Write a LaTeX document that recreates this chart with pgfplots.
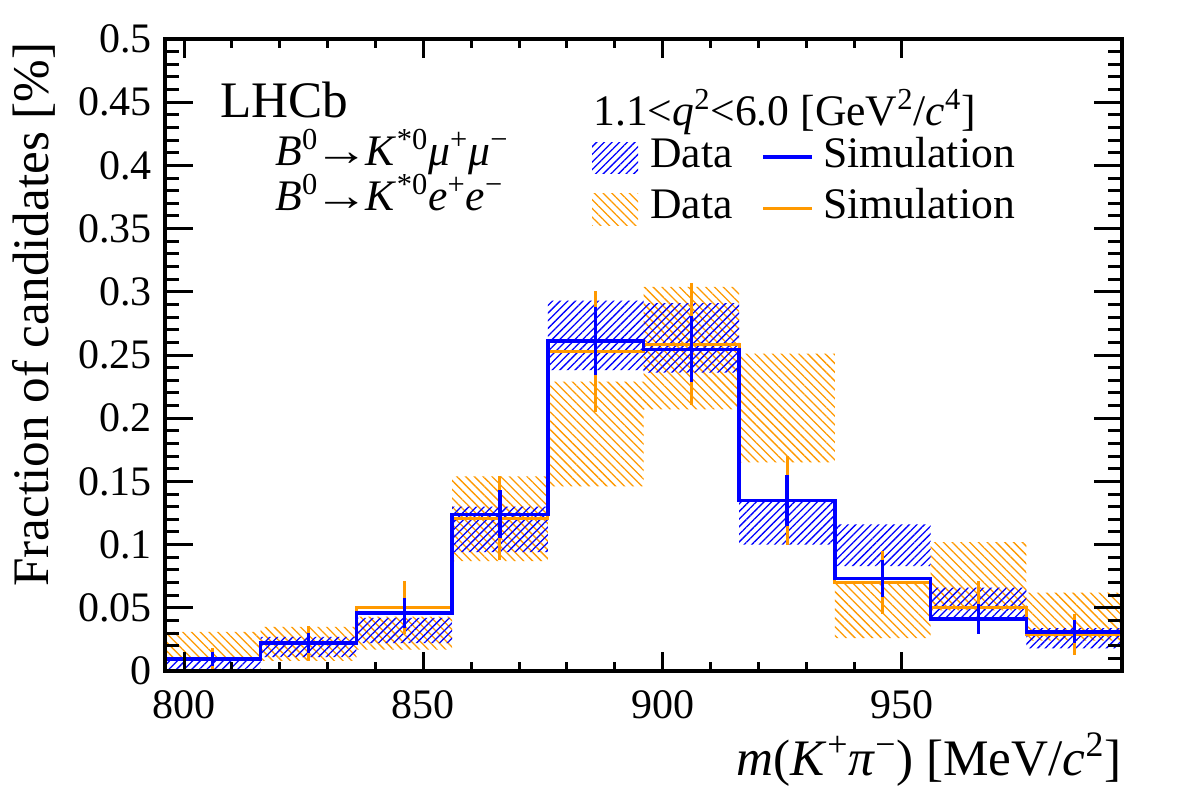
\documentclass[border=0pt]{standalone}
\usepackage{fontspec}
\setmainfont{Liberation Serif}
\usepackage{pgfplots}
\usepackage{pgfplotstable}
\pgfplotsset{compat=1.18}
\usetikzlibrary{patterns.meta}

\definecolor{rootblue}{RGB}{0,0,255}
\definecolor{rootorange}{RGB}{255,153,0}

% B0 -> K*0 mu+ mu- : bin left edge, bin centre, simulation, its error, data band
\pgfplotstableread{
x    xc   sim     err     lo     hi
796  806  0.0095  0.0055  0.001  0.010
816  826  0.022   0.008   0.011  0.027
836  846  0.046   0.012   0.022  0.042
856  866  0.124   0.019   0.094  0.130
876  886  0.261   0.027   0.238  0.293
896  906  0.2545  0.026   0.236  0.291
916  926  0.135   0.020   0.100  0.135
936  946  0.073   0.0145  0.083  0.116
956  966  0.041   0.0117  0.040  0.066
976  986  0.031   0.009   0.018  0.034
996  996  0.031   0       0.018  0.034
}\mumu

% B0 -> K*0 e+ e-
\pgfplotstableread{
x    xc   sim     err     lo     hi
796  806  0.009   0.009   0.008  0.031
816  826  0.022   0.014   0.008  0.035
836  846  0.050   0.021   0.017  0.043
856  866  0.121   0.033   0.087  0.154
876  886  0.253   0.048   0.146  0.229
896  906  0.2587  0.048   0.207  0.304
916  926  0.135   0.035   0.165  0.251
936  946  0.070   0.025   0.026  0.070
956  966  0.050   0.021   0.048  0.102
976  986  0.029   0.016   0.024  0.062
996  996  0.029   0       0.024  0.062
}\ee

\newcommand\ticksize{\fontsize{21pt}{21pt}\selectfont}
\newcommand\titlesize{\fontsize{25.6pt}{25.6pt}\selectfont}
\newcommand\legsize{\fontsize{21.8pt}{21.8pt}\selectfont}
\newcommand\arr{\kern-0.08em\scalebox{1.25}[1]{→}\kern-0.08em}

\tikzset{
  bluehatch/.style={pattern={Lines[angle=45,distance=2.7pt,line width=0.65pt]},pattern color=rootblue},
  orangehatch/.style={pattern={Lines[angle=-45,distance=3.1pt,line width=0.65pt]},pattern color=rootorange},
}

\pgfplotsset{
  rootframe/.style={
    width=478.5pt, height=316pt, scale only axis,
    xmin=796, xmax=996, ymin=0, ymax=0.5,
    axis line style={line width=2pt},
    tick style={black, line width=1.5pt},
    tick align=inside,
    /pgf/number format/assume math mode=true,
    tick label style={font=\ticksize},
  },
  bandframe/.style={
    rootframe, xtick=\empty, ytick=\empty,
    ybar stacked, bar width=20, bar shift=0pt,
  },
}

\begin{document}
\begin{tikzpicture}
\useasboundingbox (-82.5pt,-64.5pt) rectangle (508.5pt,335.5pt);

% e+e- data band (lo ... hi)
\begin{axis}[bandframe]
  \addplot[draw=none, fill=none, forget plot, skip coords between index={10}{11}]
    table[x=xc, y=lo] {\ee};
  \addplot[draw=none, orangehatch, forget plot, skip coords between index={10}{11}]
    table[x=xc, y expr=\thisrow{hi}-\thisrow{lo}] {\ee};
\end{axis}

% mu+mu- data band
\begin{axis}[bandframe]
  \addplot[draw=none, fill=none, forget plot, skip coords between index={10}{11}]
    table[x=xc, y=lo] {\mumu};
  \addplot[draw=none, bluehatch, forget plot, skip coords between index={10}{11}]
    table[x=xc, y expr=\thisrow{hi}-\thisrow{lo}] {\mumu};
\end{axis}

% simulation and the y axis
\begin{axis}[rootframe,
  xtick=\empty,
  ytick={0,0.05,0.1,0.15,0.2,0.25,0.3,0.35,0.4,0.45,0.5},
  yticklabels={0,0.05,0.1,0.15,0.2,0.25,0.3,0.35,0.4,0.45,0.5},
  minor y tick num=4,
  major tick length=14pt, minor tick length=7pt,
  yticklabel style={inner sep=0pt, xshift=-6.5pt},
]
  \addplot[rootorange, line width=1.5pt, const plot, mark=none, forget plot] table[x=x, y=sim] {\ee};
  \addplot[draw=none, mark=none, forget plot, skip coords between index={10}{11},
    error bars/.cd, y dir=both, y explicit, error mark=none,
    error bar style={draw=rootorange, line width=1.5pt}]
    table[x=xc, y=sim, y error=err] {\ee};
  \addplot[rootblue, line width=1.75pt, const plot, mark=none, forget plot] table[x=x, y=sim] {\mumu};
  \addplot[draw=none, mark=none, forget plot, skip coords between index={10}{11},
    error bars/.cd, y dir=both, y explicit, error mark=none,
    error bar style={draw=rootblue, line width=1.6pt}]
    table[x=xc, y=sim, y error=err] {\mumu};
\end{axis}

% x axis ticks
\begin{axis}[rootframe,
  ytick=\empty,
  xtick={800,850,900,950},
  minor x tick num=4,
  major tick length=9.5pt, minor tick length=4.5pt,
  xticklabel style={inner sep=0pt, yshift=-9.5pt},
]
  \addplot[draw=none, forget plot] coordinates {(796,0) (996,0.5)};
\end{axis}

% axis titles
\node[rotate=90, anchor=base east, inner sep=0pt, font=\titlesize] at (-58pt,314.5pt) {Fraction of candidates [\%]};
\node[anchor=base east, inner sep=0pt, font=\titlesize] at (478.5pt,-52pt)
  {\textit{m}(\textit{K}\textsuperscript{+}\textit{π}\textsuperscript{−}) [MeV/\textit{c}\textsuperscript{2}]};

% labels
\node[anchor=base west, inner sep=0pt, font=\titlesize] at (27.5pt,277pt) {LHCb};
\node[anchor=base west, inner sep=0pt, font=\legsize] at (55pt,253pt)
  {\textit{B}\textsuperscript{0}\arr\textit{K}\textsuperscript{*0}\textit{μ}\textsuperscript{+}\textit{μ}\textsuperscript{−}};
\node[anchor=base west, inner sep=0pt, font=\legsize] at (55pt,230.5pt)
  {\textit{B}\textsuperscript{0}\arr\textit{K}\textsuperscript{*0}\textit{e}\textsuperscript{+}\textit{e}\textsuperscript{−}};
\node[anchor=base west, inner sep=0pt, font=\legsize] at (214pt,273pt)
  {1.1<\textit{q}\textsuperscript{2}<6.0 [GeV\textsuperscript{2}/\textit{c}\textsuperscript{4}]};

% legend
\fill[bluehatch] (213.5pt,249pt) rectangle (236.5pt,264.5pt);
\node[anchor=base west, inner sep=0pt, font=\legsize] at (242.5pt,252pt) {Data};
\draw[rootblue, line width=1.75pt] (299pt,257pt) -- (323.5pt,257pt);
\node[anchor=base west, inner sep=0pt, font=\legsize] at (329pt,252pt) {Simulation};
\fill[orangehatch] (213.5pt,223pt) rectangle (236.5pt,239pt);
\node[anchor=base west, inner sep=0pt, font=\legsize] at (242.5pt,226.5pt) {Data};
\draw[rootorange, line width=1.5pt] (299pt,231.5pt) -- (323.5pt,231.5pt);
\node[anchor=base west, inner sep=0pt, font=\legsize] at (329pt,226.5pt) {Simulation};
\end{tikzpicture}
\end{document}
